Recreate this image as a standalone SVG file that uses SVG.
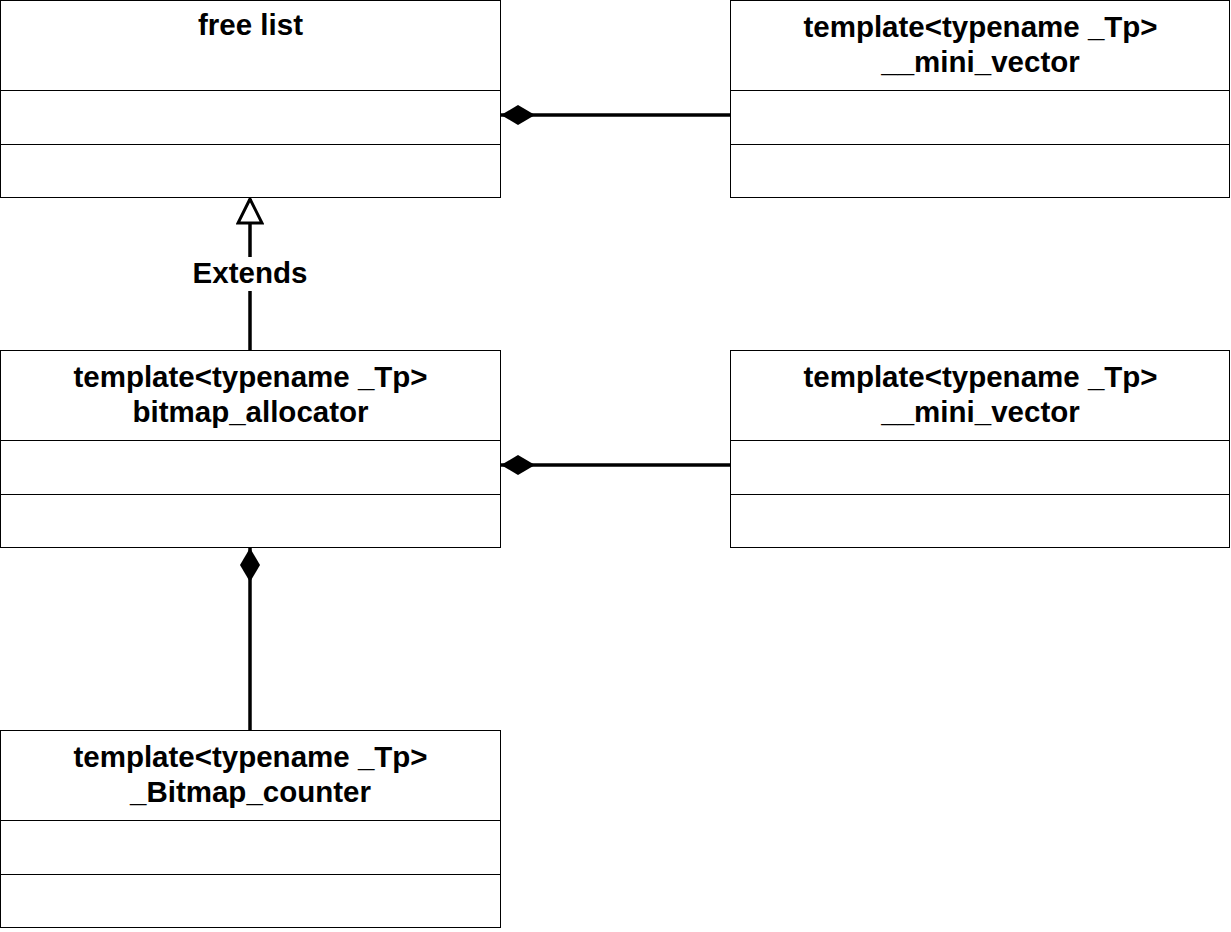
<svg xmlns="http://www.w3.org/2000/svg" width="1231" height="932" viewBox="0 0 1231 932">
<style>
.box{fill:#fff;stroke:#000;stroke-width:1}
.sep{stroke:#000;stroke-width:1}
.t{font-family:"Liberation Sans",Arial,sans-serif;font-weight:bold;font-size:29.5px;text-anchor:middle;fill:#000}
.c{stroke:#000;stroke-width:3.5;fill:none}
</style>
<defs>
<marker id="diamond" viewBox="0 0 34 20" refX="34" refY="10" markerWidth="34" markerHeight="20" markerUnits="userSpaceOnUse" orient="auto">
<path d="M0,10 L17,0 L34,10 L17,20 Z" fill="#000"/>
</marker>
<marker id="tri" viewBox="0 0 28 28" refX="26" refY="14" markerWidth="28" markerHeight="28" markerUnits="userSpaceOnUse" orient="auto">
<path d="M26,14 L2,2 L2,26 Z" fill="#fff" stroke="#000" stroke-width="3"/>
</marker>
</defs>
<rect width="1231" height="932" fill="#fff"/>
<g id="free_list">
<rect class="box" x="0.5" y="0.5" width="500" height="197"/>
<line class="sep" x1="0.5" y1="90.5" x2="500.5" y2="90.5"/>
<line class="sep" x1="0.5" y1="144.5" x2="500.5" y2="144.5"/>
<text class="t" x="250.5" y="35">free list</text>
</g>
<g id="mini_vector_1">
<rect class="box" x="730.5" y="0.5" width="499" height="197"/>
<line class="sep" x1="730.5" y1="90.5" x2="1229.5" y2="90.5"/>
<line class="sep" x1="730.5" y1="144.5" x2="1229.5" y2="144.5"/>
<text class="t" x="980.5" y="36.5">template&lt;typename _Tp&gt;</text>
<text class="t" x="980.5" y="71.5">__mini_vector</text>
</g>
<g id="bitmap_allocator">
<rect class="box" x="0.5" y="350.5" width="500" height="197"/>
<line class="sep" x1="0.5" y1="440.5" x2="500.5" y2="440.5"/>
<line class="sep" x1="0.5" y1="494.5" x2="500.5" y2="494.5"/>
<text class="t" x="250.5" y="386.5">template&lt;typename _Tp&gt;</text>
<text class="t" x="250.5" y="421.5">bitmap_allocator</text>
</g>
<g id="mini_vector_2">
<rect class="box" x="730.5" y="350.5" width="499" height="197"/>
<line class="sep" x1="730.5" y1="440.5" x2="1229.5" y2="440.5"/>
<line class="sep" x1="730.5" y1="494.5" x2="1229.5" y2="494.5"/>
<text class="t" x="980.5" y="386.5">template&lt;typename _Tp&gt;</text>
<text class="t" x="980.5" y="421.5">__mini_vector</text>
</g>
<g id="bitmap_counter">
<rect class="box" x="0.5" y="730.5" width="500" height="197"/>
<line class="sep" x1="0.5" y1="820.5" x2="500.5" y2="820.5"/>
<line class="sep" x1="0.5" y1="874.5" x2="500.5" y2="874.5"/>
<text class="t" x="250.5" y="766.5">template&lt;typename _Tp&gt;</text>
<text class="t" x="250.5" y="801.5">_Bitmap_counter</text>
</g>
<g id="connectors">
<path class="c" d="M730,115 L501,115" marker-end="url(#diamond)"/>
<path class="c" d="M730,465 L501,465" marker-end="url(#diamond)"/>
<path class="c" d="M250,730 L250,548" marker-end="url(#diamond)"/>
<path class="c" d="M250,350 L250,199" marker-end="url(#tri)"/>
<rect x="190" y="257" width="120" height="34" fill="#fff"/>
<text class="t" x="250" y="283">Extends</text>
</g>
</svg>
